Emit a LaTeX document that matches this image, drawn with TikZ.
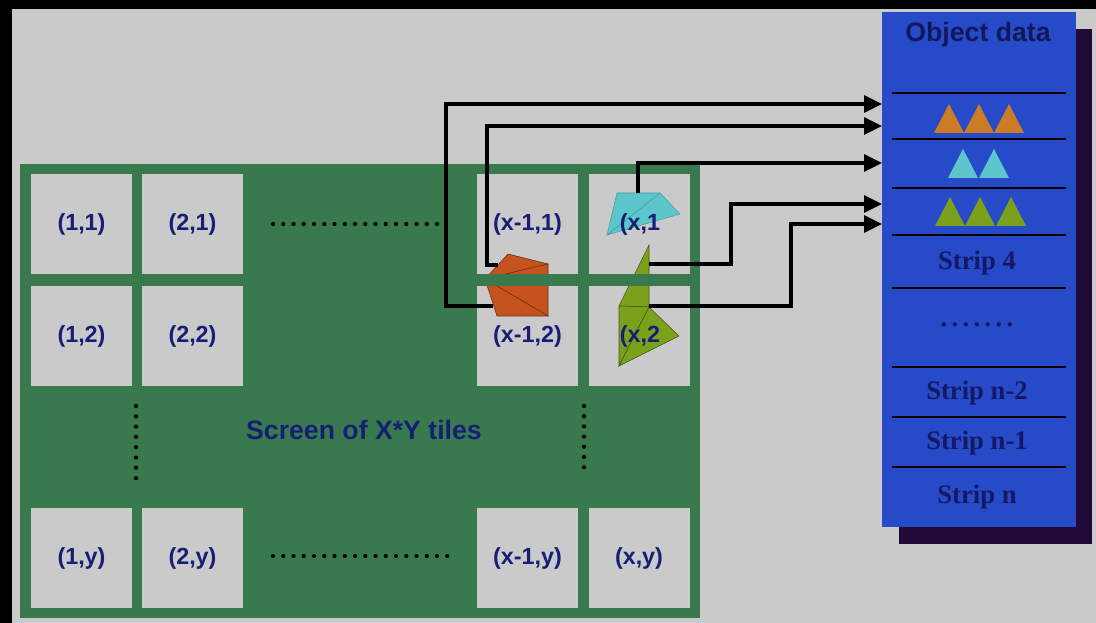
\documentclass[tikz,border=0pt]{standalone}
\usepackage{fontspec}
\setmainfont{Liberation Sans}
\newfontfamily\serifbold{Liberation Serif}
\usetikzlibrary{arrows.meta,calc}
\definecolor{bg}{RGB}{202,202,202}
\definecolor{scrgreen}{RGB}{57,121,78}
\definecolor{navy}{RGB}{22,30,118}
\definecolor{panelblue}{RGB}{38,74,200}
\definecolor{shadowp}{RGB}{34,10,56}
\definecolor{orA}{RGB}{198,82,30}
\definecolor{orB}{RGB}{204,124,36}
\definecolor{cy}{RGB}{92,198,204}
\definecolor{ol}{RGB}{122,160,28}
\begin{document}
\begin{tikzpicture}[x=0.75pt,y=-0.75pt,
  tile/.style={fill=bg,minimum width=75.75pt,minimum height=75pt,inner sep=0pt,outer sep=0pt},
  tlabel/.style={text=navy,font=\bfseries\fontsize{17.5}{20}\selectfont,inner sep=0pt},
  slabel/.style={text=navy!85!black,font=\serifbold\bfseries\fontsize{20}{22}\selectfont,inner sep=0pt},
  conn/.style={line width=2.4pt,line join=miter,-{Triangle[length=13.5pt,width=12.75pt]}},
  sep/.style={line width=1pt,black},
  facet/.style={line width=0.4pt}
]
\useasboundingbox (0,0) rectangle (1096,623);
% background and frame
\fill[bg] (0,0) rectangle (1096,623);
\fill[black] (0,0) rectangle (1096,9);
\fill[black] (0,0) rectangle (12,623);
% screen
\fill[scrgreen] (20,164) rectangle (700,618);
\node[tile] (t11) at (81.5,224) {};
\node[tile] (t21) at (192.5,224) {};
\node[tile] (tx11) at (527.5,224) {};
\node[tile] (tx1) at (639,224) {};
\node[tile] (t12) at (81.5,336) {};
\node[tile] (t22) at (192.5,336) {};
\node[tile] (tx12) at (527.5,336) {};
\node[tile] (tx2) at (639,336) {};
\node[tile] (t1y) at (81.5,558) {};
\node[tile] (t2y) at (192.5,558) {};
\node[tile] (tx1y) at (527.5,558) {};
\node[tile] (txy) at (639,558) {};
% dotted ellipses
\foreach \i in {0,...,16} \fill (273+\i*10.25,224) circle (2.1);
\foreach \i in {0,...,17} \fill (273+\i*10.25,556) circle (2.1);
\foreach \i in {0,...,7} \fill (136,406+\i*10.3) circle (2.1);
\foreach \i in {0,...,6} \fill (584,406+\i*10.2) circle (2.1);
\node[text=navy,font=\bfseries\fontsize{20}{22}\selectfont,inner sep=0pt] (scr) at (364,430) {Screen of X*Y tiles};
% object data panel
\fill[shadowp] (899,29) rectangle (1092,544);
\node[fill=panelblue,minimum width=145.5pt,minimum height=386.25pt,inner sep=0pt,outer sep=0pt] (od) at (979,269.5) {};
\node[text=navy!80!black,font=\bfseries\fontsize{20}{22}\selectfont,inner sep=0pt] (title) at (978,35) {Object data};
\foreach \yy in {93,139,188,235,288,367,417,467} \draw[sep] (892,\yy) -- (1066,\yy);
\foreach \cx in {949,979,1009} \fill[orB] (\cx-15,133) -- (\cx+15,133) -- (\cx,104) -- cycle;
\foreach \cx in {963,994} \fill[cy] (\cx-15,178) -- (\cx+15,178) -- (\cx,149) -- cycle;
\foreach \cx in {950,980,1011} \fill[ol] (\cx-15,226) -- (\cx+15,226) -- (\cx,197) -- cycle;
\node[slabel] (s4) at (977,263) {Strip 4};
\node[slabel] (sd) at (977,325) {.\kern3.25pt.\kern3.25pt.\kern3.25pt.\kern3.25pt.\kern3.25pt.\kern3.25pt.};
\node[slabel] (sn2) at (977,393) {Strip n-2};
\node[slabel] (sn1) at (977,443) {Strip n-1};
\node[slabel] (sn) at (977,497) {Strip n};
% primitive shapes, clipped to tiles
\begin{scope}
\clip (477,174) rectangle (578,274) (477,286) rectangle (578,386)
      (588,174) rectangle (690,274) (588,286) rectangle (690,386);
\filldraw[fill=orA,draw=orA!55!black,facet] (508,254) -- (548,264) -- (485,279) -- cycle;
\filldraw[fill=orA,draw=orA!55!black,facet] (485,279) -- (548,264) -- (548,316) -- cycle;
\filldraw[fill=orA,draw=orA!55!black,facet] (485,279) -- (548,316) -- (497,316) -- cycle;
\filldraw[fill=cy,draw=cy!80!black,facet] (617,193) -- (660,193) -- (607,235) -- cycle;
\filldraw[fill=cy,draw=cy!80!black,facet] (607,235) -- (660,193) -- (680,214) -- cycle;
\filldraw[fill=ol,draw=ol!55!black,facet] (649,245) -- (649,307) -- (619,306) -- cycle;
\filldraw[fill=ol,draw=ol!55!black,facet] (619,306) -- (649,307) -- (619,366) -- cycle;
\filldraw[fill=ol,draw=ol!55!black,facet] (649,307) -- (679,336) -- (619,366) -- cycle;
\end{scope}
% tile labels
\node[tlabel] at (t11) {(1,1)};
\node[tlabel] at (t21) {(2,1)};
\node[tlabel] at (tx11) {(x-1,1)};
\node[tlabel] at (640,224) {(x,1};
\node[tlabel] at (t12) {(1,2)};
\node[tlabel] at (t22) {(2,2)};
\node[tlabel] at (tx12) {(x-1,2)};
\node[tlabel] at (640,336) {(x,2};
\node[tlabel] at (t1y) {(1,y)};
\node[tlabel] at (t2y) {(2,y)};
\node[tlabel] at (tx1y) {(x-1,y)};
\node[tlabel] at (txy) {(x,y)};
% connectors
\coordinate (o1) at (493,306);
\coordinate (o2) at (498,265);
\coordinate (c1) at (638,193);
\coordinate (g1) at (649,264);
\coordinate (g2) at (649,306);
\coordinate (p1) at (882,104);
\coordinate (p2) at (882,126);
\coordinate (p3) at (882,163);
\coordinate (p4) at (882,204);
\coordinate (p5) at (882,224);
\draw[conn] (o1) -- (446,306) |- (p1);
\draw[conn] (o2) -- (487,265) |- (p2);
\draw[conn] (c1) |- (p3);
\draw[conn] (g1) -- (731,264) |- (p4);
\draw[conn] (g2) -- (791,306) |- (p5);
\end{tikzpicture}
\end{document}
